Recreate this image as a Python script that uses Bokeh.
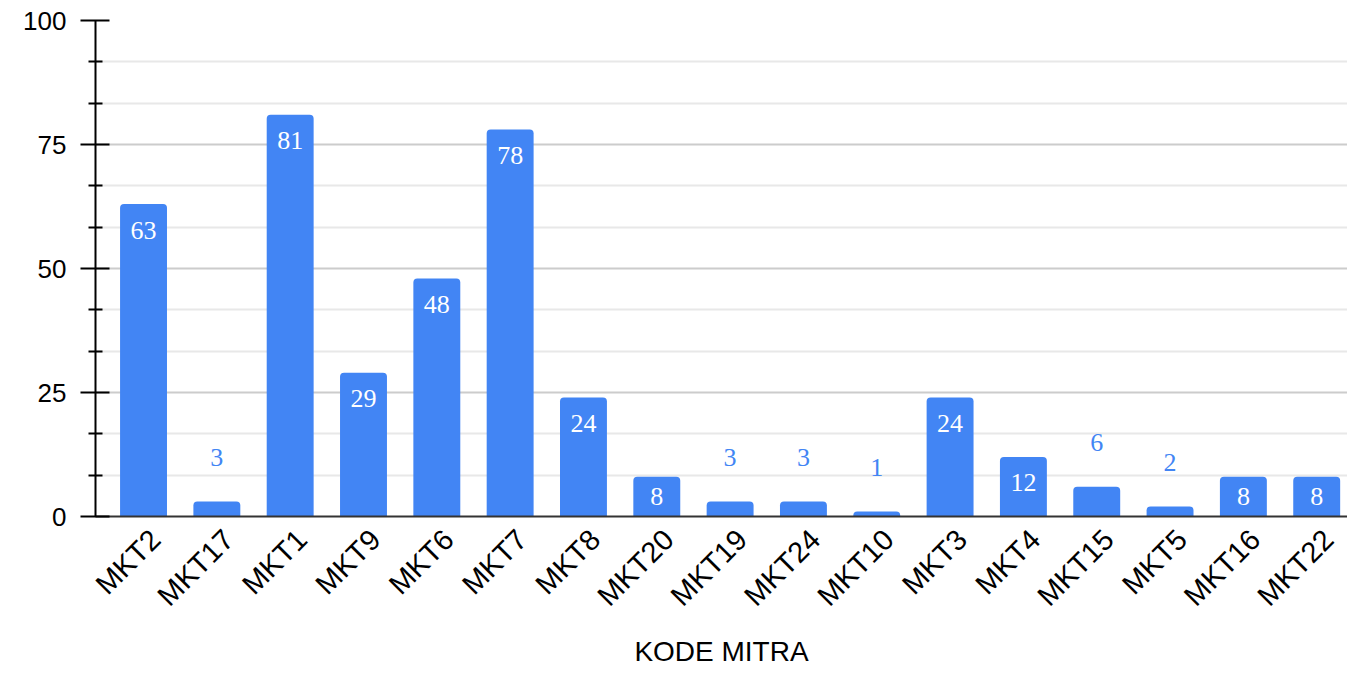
import math
from bokeh.plotting import figure
from bokeh.models import ColumnDataSource, Range1d, FixedTicker, CustomJSTickFormatter
from bokeh.core.properties import value
from bokeh.embed import file_html
from bokeh.resources import INLINE

categories = ["MKT2", "MKT17", "MKT1", "MKT9", "MKT6", "MKT7", "MKT8", "MKT20",
              "MKT19", "MKT24", "MKT10", "MKT3", "MKT4", "MKT15", "MKT5", "MKT16", "MKT22"]
counts = [63, 3, 81, 29, 48, 78, 24, 8, 3, 3, 1, 24, 12, 6, 2, 8, 8]
y_ticks = [0, 25, 50, 75, 100]
y_minor = [25 / 3 * k for k in range(1, 12) if k % 3 != 0]

BLUE = "#4285F4"
PX_PER_UNIT = 4.97
LABEL_SHIFT = 0.16  # rotated tick labels sit slightly right of the bar centre

xs = list(range(len(categories)))
inside = [c >= 8 for c in counts]
label_y_offset = [min(26, c * PX_PER_UNIT / 2) if ins else -44 for c, ins in zip(counts, inside)]
label_color = ["white" if ins else BLUE for ins in inside]

src = ColumnDataSource(dict(x=xs, top=counts, label=[str(c) for c in counts],
                            yoff=label_y_offset, color=label_color))

p = figure(width=1347, height=670, output_backend="svg", toolbar_location=None,
           x_range=Range1d(-0.655, 16.42), y_range=Range1d(0, 100),
           min_border_left=95, min_border_right=0, min_border_top=20, min_border_bottom=153)
p.outline_line_color = None
p.background_fill_color = "white"

p.vbar(x="x", top="top", width=0.64, source=src, color=BLUE, line_color=None,
       border_radius=(4, 4, 0, 0))

p.text(x="x", y="top", text="label", y_offset="yoff", source=src, text_color="color",
       text_align="center", text_baseline="middle", text_font=value("Liberation Serif"),
       text_font_size="26px")

# y axis
p.yaxis.ticker = FixedTicker(ticks=y_ticks, minor_ticks=y_minor)
p.yaxis.axis_line_color = "black"
p.yaxis.axis_line_width = 2
p.yaxis.major_tick_line_color = "black"
p.yaxis.major_tick_line_width = 2
p.yaxis.major_tick_out = 15
p.yaxis.major_tick_in = 14
p.yaxis.minor_tick_line_color = "black"
p.yaxis.minor_tick_line_width = 2
p.yaxis.minor_tick_out = 7
p.yaxis.minor_tick_in = 7
p.yaxis.major_label_text_font = "Liberation Sans"
p.yaxis.major_label_text_font_size = "26px"
p.yaxis.major_label_text_color = "black"
p.yaxis.major_label_standoff = 14

p.ygrid.ticker = FixedTicker(ticks=y_ticks, minor_ticks=y_minor)
p.ygrid.grid_line_color = "#cccccc"
p.ygrid.grid_line_width = 2
p.ygrid.minor_grid_line_color = "#e8e8e8"
p.ygrid.minor_grid_line_width = 2
p.xgrid.grid_line_color = None

# x axis
p.xaxis.ticker = FixedTicker(ticks=[x + LABEL_SHIFT for x in xs])
p.xaxis.formatter = CustomJSTickFormatter(args=dict(cats=categories),
                                          code="return cats[Math.round(tick)];")
p.xaxis.axis_line_color = "#333333"
p.xaxis.axis_line_width = 2
p.xaxis.major_tick_line_color = None
p.xaxis.minor_tick_line_color = None
p.xaxis.major_label_orientation = math.pi / 4
p.xaxis.major_label_text_font = "Liberation Sans"
p.xaxis.major_label_text_font_size = "29px"
p.xaxis.major_label_text_color = "black"
p.xaxis.major_label_standoff = 12
p.xaxis.axis_label = "KODE MITRA"
p.xaxis.axis_label_text_font = "Liberation Sans"
p.xaxis.axis_label_text_font_size = "28px"
p.xaxis.axis_label_text_font_style = "normal"
p.xaxis.axis_label_text_color = "black"
p.xaxis.axis_label_standoff = 10

open("out.html", "w").write(file_html(p, INLINE))
